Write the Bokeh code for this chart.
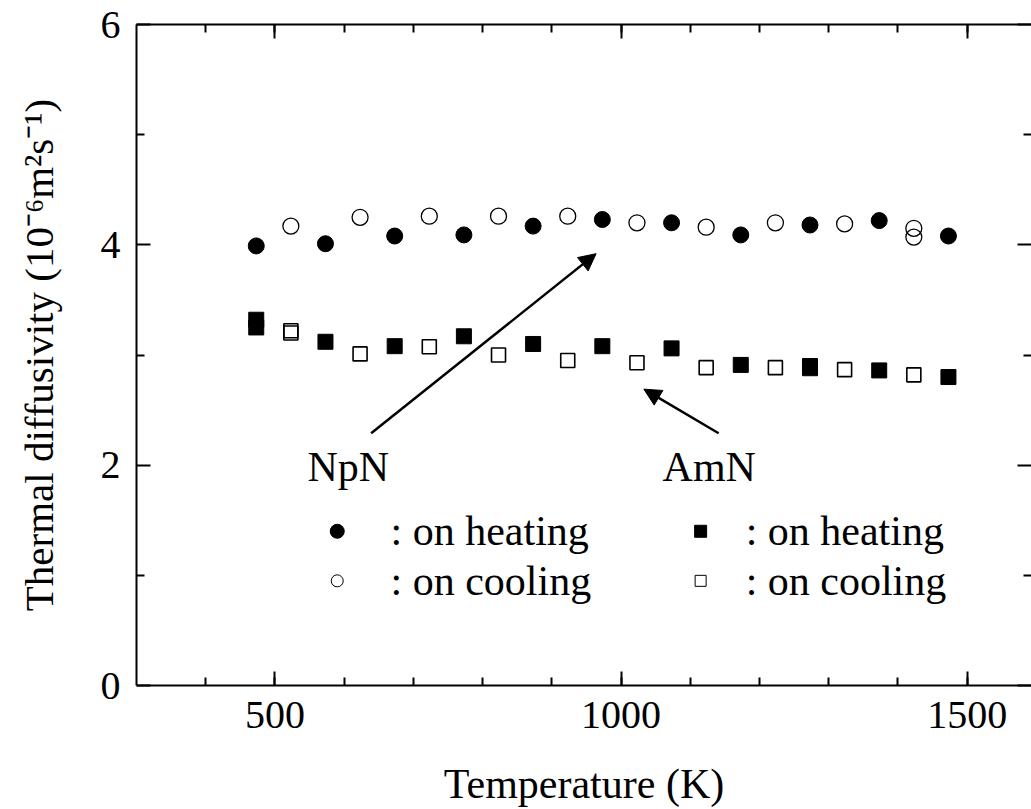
from bokeh.plotting import figure
from bokeh.models import Range1d, FixedTicker, LinearAxis, Arrow, NormalHead
from bokeh.core.properties import value
from bokeh.embed import file_html
from bokeh.resources import INLINE

FONT = "Liberation Serif"

# ---- data ----
np_heat_T = [473, 573, 673, 773, 873, 973, 1073, 1173, 1273, 1373, 1473]
np_heat_D = [3.99, 4.01, 4.08, 4.09, 4.17, 4.23, 4.20, 4.09, 4.18, 4.22, 4.08]

np_cool_T = [523, 623, 723, 823, 923, 1023, 1123, 1223, 1323, 1423, 1423]
np_cool_D = [4.17, 4.25, 4.26, 4.26, 4.26, 4.20, 4.16, 4.20, 4.19, 4.15, 4.07]

am_heat_T = [473, 473, 573, 673, 773, 873, 973, 1073, 1173, 1273, 1273, 1373, 1473]
am_heat_D = [3.32, 3.25, 3.12, 3.08, 3.17, 3.10, 3.08, 3.06, 2.91, 2.90, 2.88, 2.86, 2.80]

am_cool_T = [523, 523, 623, 723, 823, 923, 1023, 1123, 1223, 1323, 1423]
am_cool_D = [3.22, 3.20, 3.01, 3.075, 3.00, 2.95, 2.93, 2.885, 2.885, 2.867, 2.82]

x_major = [500, 1000, 1500]
x_minor = [400, 500, 600, 700, 800, 900, 1000, 1100, 1200, 1300, 1400, 1500]
y_major = [0, 2, 4, 6]
y_minor = [1, 3, 5]

# annotations
arrow_np = dict(x_start=639, y_start=2.29, x_end=964, y_end=3.92)
arrow_am = dict(x_start=1141, y_start=2.29, x_end=1033, y_end=2.69)
sample_names = ["NpN", "AmN"]
sample_x = [547, 1060]
sample_y = [1.98, 1.98]
key_text = [": on heating", ": on cooling", ": on heating", ": on cooling"]
key_text_x = [667, 667, 1180, 1180]
key_y = [1.40, 0.95, 1.40, 0.95]

p = figure(width=1031, height=809, output_backend="svg", toolbar_location=None,
           x_range=Range1d(300, 1593), y_range=Range1d(0, 6),
           min_border_left=136, min_border_right=0, min_border_top=24,
           min_border_bottom=121,
           x_axis_label="Temperature (K)",
           y_axis_label="Thermal diffusivity (10\u207b\u2076m\u00b2s\u207b\u00b9)")
p.outline_line_color = None
p.xgrid.grid_line_color = None
p.ygrid.grid_line_color = None
p.background_fill_color = "white"
p.border_fill_color = "white"


def style(ax):
    ax.axis_line_width = 2
    ax.axis_line_color = "black"
    ax.major_tick_line_width = 2
    ax.minor_tick_line_width = 2
    ax.major_tick_in = 14
    ax.major_tick_out = 0
    ax.minor_tick_in = 8
    ax.minor_tick_out = 0
    ax.major_label_text_font = FONT
    ax.major_label_text_font_size = "40px"
    ax.major_label_text_color = "black"
    ax.axis_label_text_font = FONT
    ax.axis_label_text_font_size = "42px"
    ax.axis_label_text_font_style = "normal"
    ax.axis_label_text_color = "black"


xb = p.xaxis[0]
xb.ticker = FixedTicker(ticks=x_major, minor_ticks=x_minor)
style(xb)
xb.major_label_standoff = 16
xb.axis_label_standoff = 30

yl = p.yaxis[0]
yl.ticker = FixedTicker(ticks=y_major, minor_ticks=y_minor)
style(yl)
yl.axis_label_text_font_size = "41px"
yl.major_label_standoff = 16
yl.axis_label_standoff = 36

xt = LinearAxis(ticker=FixedTicker(ticks=x_major, minor_ticks=x_minor))
style(xt)
xt.major_label_overrides = {500: "", 1000: "", 1500: ""}
xt.major_label_text_font_size = "0px"
xt.major_label_standoff = 0
p.add_layout(xt, "above")

yr = LinearAxis(ticker=FixedTicker(ticks=y_major, minor_ticks=y_minor))
style(yr)
yr.axis_line_color = None
yr.major_label_overrides = {0: "", 2: "", 4: "", 6: ""}
yr.major_label_text_font_size = "0px"
yr.major_label_standoff = 0
p.add_layout(yr, "right")

# data markers
p.scatter(np_heat_T, np_heat_D, marker="circle", size=16, fill_color="black", line_color="black")
p.scatter(np_cool_T, np_cool_D, marker="circle", size=16, fill_color="white", fill_alpha=0,
          line_color="black", line_width=1.3)
p.scatter(am_heat_T, am_heat_D, marker="square", size=15, fill_color="black", line_color="black")
p.scatter(am_cool_T, am_cool_D, marker="square", size=14, fill_color="white", fill_alpha=0,
          line_color="black", line_width=1.6)

# arrows
for a in (arrow_np, arrow_am):
    p.add_layout(Arrow(end=NormalHead(size=17, fill_color="black", line_color="black", line_width=1),
                       line_width=2.5, line_color="black", **a))

# sample names
p.text(sample_x, sample_y, text=sample_names, text_font=value(FONT), text_font_size="42px",
       text_baseline="middle", text_align="left", text_color="black")

# key
p.text(key_text_x, key_y, text=key_text, text_font=value(FONT), text_font_size="42px",
       text_baseline="middle", text_align="left", text_color="black")
p.scatter([590], [1.40], marker="circle", size=14, fill_color="black", line_color="black")
p.scatter([590], [0.95], marker="circle", size=12, fill_color="white", line_color="black", line_width=1)
p.scatter([1115], [1.40], marker="square", size=12, fill_color="black", line_color="black")
p.scatter([1115], [0.95], marker="square", size=11, fill_color="white", line_color="black", line_width=1)

open("out.html", "w").write(file_html(p, INLINE))
